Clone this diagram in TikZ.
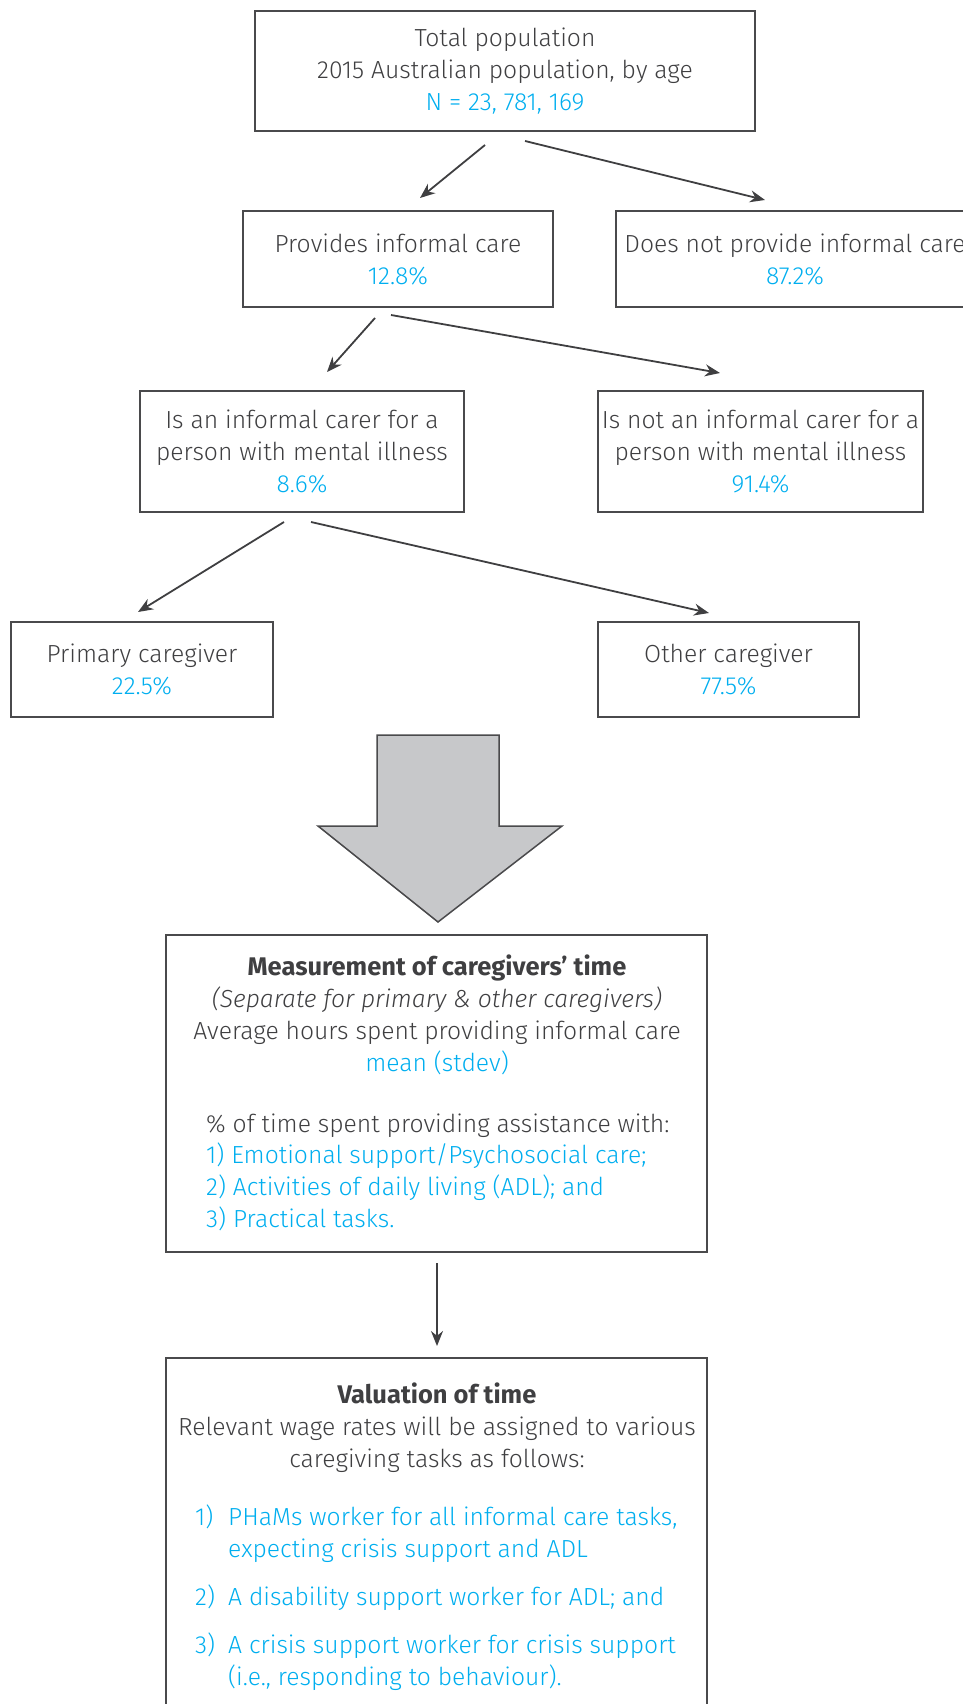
\documentclass[tikz,border=0pt]{standalone}
\usepackage{fontspec}
\setmainfont{Fira Sans}[UprightFont=* Light,ItalicFont=* Light Italic,BoldFont=* Bold]
\usetikzlibrary{arrows.meta,positioning}
\definecolor{inkgrey}{HTML}{3F3F41}
\definecolor{cyanblue}{HTML}{00AEEF}
\definecolor{linegrey}{HTML}{4A4A4C}
\definecolor{arrowfill}{HTML}{C7C8CA}
\tikzset{
  box/.style={draw=linegrey,line width=2pt,align=center,text=inkgrey,inner sep=0pt},
  txt/.style={inner sep=0pt,text=inkgrey},
  val/.style={inner sep=0pt,text=cyanblue},
  head/.style={inner sep=0pt,text=inkgrey,font=\fontsize{25.5}{32}\selectfont\bfseries},
  arr/.style={draw=inkgrey,line width=1.8pt,-{Stealth[length=15pt,width=12pt]}},
}
\begin{document}
\begin{tikzpicture}[x=1pt,y=-1pt,font=\fontsize{24.7}{32}\selectfont]
      \useasboundingbox (0,0) rectangle (963,1704);
      \clip (0,0) rectangle (963,1704);

      % population tree
      \node [box,minimum width=500,minimum height=120] (total) at (505,71)
        {Total population\\2015 Australian population, by age\\
         \textcolor{cyanblue}{N = 23, 781, 169}};
      \node [box,minimum width=310,minimum height=96] (provides) at (398,259)
        {Provides informal care\\\textcolor{cyanblue}{12.8\%}};
      \node [box,minimum width=359,minimum height=96] (notprov) at (795,259)
        {Does not provide informal care\\\textcolor{cyanblue}{87.2\%}};
      \node [box,minimum width=324,minimum height=121] (carer) at (302,451.5)
        {Is an informal carer for a\\person with mental illness\\
         \textcolor{cyanblue}{8.6\%}};
      \node [box,minimum width=325,minimum height=121] (notcarer) at (760.5,451.5)
        {Is not an informal carer for a\\person with mental illness\\
         \textcolor{cyanblue}{91.4\%}};
      \node [box,minimum width=262,minimum height=95] (primary) at (142,669.5)
        {Primary caregiver\\\textcolor{cyanblue}{22.5\%}};
      \node [box,minimum width=261,minimum height=95] (other) at (728.5,669.5)
        {Other caregiver\\\textcolor{cyanblue}{77.5\%}};

      \coordinate (t-a) at (485,145);  \coordinate (p-a) at (420,198);
      \coordinate (t-b) at (525,141);  \coordinate (n-b) at (765,200);
      \coordinate (p-c) at (375,318);  \coordinate (c-c) at (327,372);
      \coordinate (p-d) at (391,315);  \coordinate (nc-d) at (720,373);
      \coordinate (c-e) at (284,522);  \coordinate (pr-e) at (138,612);
      \coordinate (c-f) at (311,522);  \coordinate (o-f) at (709,613);
      \draw [arr] (t-a) -- (p-a);
      \draw [arr] (t-b) -- (n-b);
      \draw [arr] (p-c) -- (c-c);
      \draw [arr] (p-d) -- (nc-d);
      \draw [arr] (c-e) -- (pr-e);
      \draw [arr] (c-f) -- (o-f);

      % big grey arrow
      \draw [draw=linegrey,fill=arrowfill,line width=1.5pt]
        (377,735) -- (499,735) -- (499,826) -- (562,826) -- (438,922)
        -- (318,826) -- (377,826) -- cycle;

      % measurement
      \node [box,minimum width=541,minimum height=317] (measure) at (436.5,1093.5) {};
      \node [head,anchor=base] (m-title) at (437,975)
        {Measurement of caregivers’ time};
      \node [txt,anchor=base] (m-sep) at (437,1007)
        {\itshape (Separate for primary \& other caregivers)};
      \node [txt,anchor=base] (m-avg) at (437,1039)
        {Average hours spent providing informal care};
      \node [val,anchor=base] (m-mean) at (437,1071) {mean (stdev)};
      \node [txt,anchor=base west] (m-pct) at (206,1132)
        {\% of time spent providing assistance with:};
      \foreach \y/\t [count=\k] in {1163/{1) Emotional support/Psychosocial care;},
          1195/{2) Activities of daily living (ADL); and},
          1227/{3) Practical tasks.}}
        \node [val,anchor=base west] (m-item\k) at (206,\y) {\t};

      \coordinate (m-out) at (437,1263);  \coordinate (v-in) at (437,1346);
      \draw [arr] (m-out) -- (v-in);

      % valuation
      \node [box,minimum width=541,minimum height=364] (valuation) at (436.5,1540) {};
      \node [head,anchor=base] (v-title) at (437,1403) {Valuation of time};
      \node [txt,anchor=base] (v-rel) at (437,1435)
        {Relevant wage rates will be assigned to various};
      \node [txt,anchor=base] (v-tasks) at (437,1467) {caregiving tasks as follows:};
      \foreach \y/\n in {1525/1,1605/2,1653/3}
        \node [val,anchor=base west] (v-num\n) at (195,\y) {\n)};
      \foreach \y/\t [count=\k] in {1525/{PHaMs worker for all informal care tasks,},
          1557/{expecting crisis support and ADL},
          1605/{A disability support worker for ADL; and},
          1653/{A crisis support worker for crisis support},
          1685/{(i.e., responding to behaviour).}}
        \node [val,anchor=base west] (v-line\k) at (228,\y) {\t};

    \end{tikzpicture}
\end{document}
